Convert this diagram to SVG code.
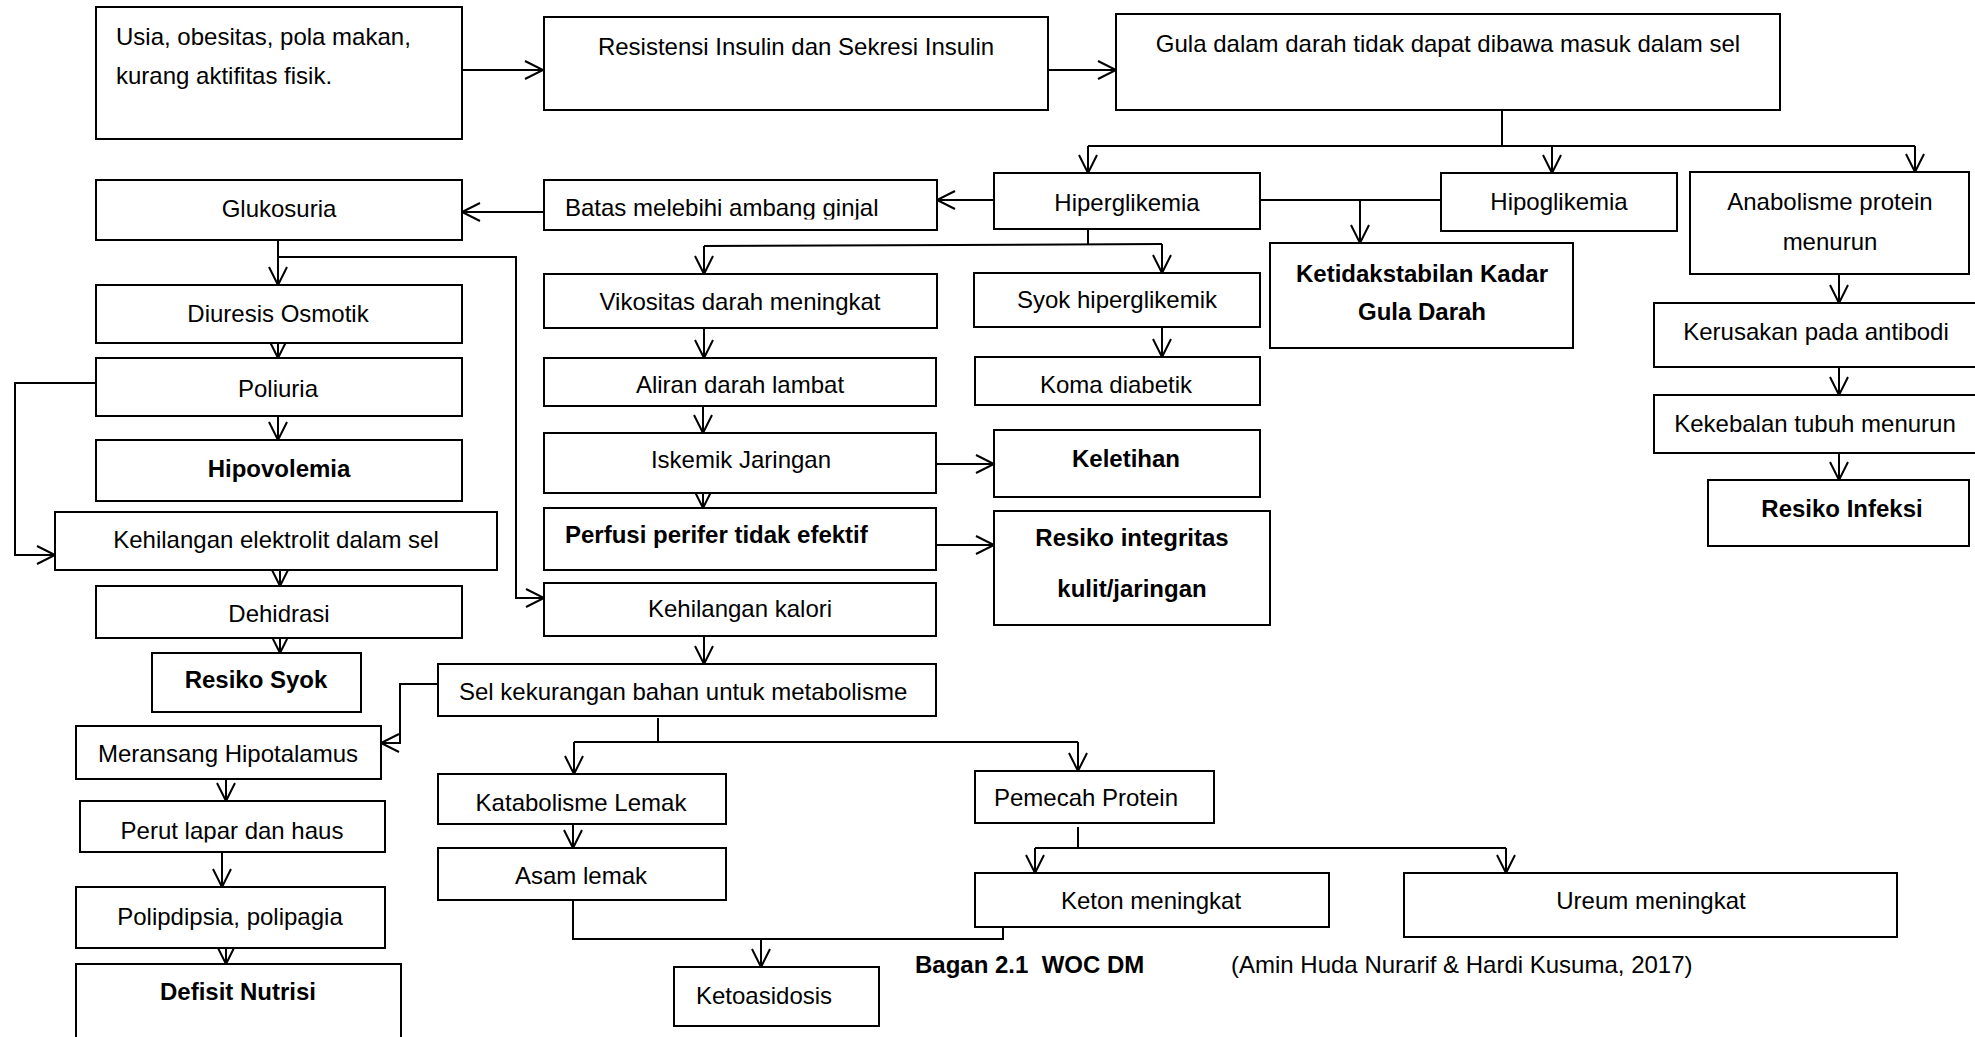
<svg xmlns="http://www.w3.org/2000/svg" width="1975" height="1037" viewBox="0 0 1975 1037">
<style>
.box{fill:#fff;stroke:#000;stroke-width:2}
.ln{fill:none;stroke:#000;stroke-width:2}
.ar{fill:none;stroke:#000;stroke-width:2;marker-end:url(#ah)}
text{font-family:"Liberation Sans",Arial,sans-serif;font-size:24px;fill:#000}
.c{text-anchor:middle}
.b{font-weight:bold}
</style>
<defs>
<marker id="ah" viewBox="-2 -2 22 22" markerWidth="22" markerHeight="22" refX="18" refY="9" orient="auto" markerUnits="userSpaceOnUse" style="overflow:visible">
<path d="M0,0 L18,9 L0,18" fill="none" stroke="#000" stroke-width="2"/>
</marker>
<clipPath id="clipBatas"><rect x="544" y="180" width="393" height="39.5"/></clipPath>
<clipPath id="clipPerut"><rect x="80" y="801" width="305" height="41.5"/></clipPath>
</defs>
<rect width="1975" height="1037" fill="#fff"/>

<g id="connectors">
<path class="ar" d="M462,70 H543"/>
<path class="ar" d="M1048,70 H1116"/>
<path class="ln" d="M1502,110 V146 M1088,146 H1915"/>
<path class="ar" d="M1088,146 V173"/>
<path class="ar" d="M1552,146 V173"/>
<path class="ar" d="M1915,146 V172"/>
<path class="ar" d="M994,200 H937"/>
<path class="ar" d="M544,212 H462"/>
<path class="ln" d="M1260,200 H1441"/>
<path class="ar" d="M1360,200 V243"/>
<path class="ln" d="M1088,229 V245 M704,246 L1162,244"/>
<path class="ar" d="M704,246 V274"/>
<path class="ar" d="M1162,244 V273"/>
<path class="ar" d="M704,328 V358"/>
<path class="ar" d="M703,406 V433"/>
<path class="ar" d="M703,493 V508"/>
<path class="ar" d="M936,464 H994"/>
<path class="ar" d="M936,545 H994"/>
<path class="ar" d="M1162,327 V357"/>
<path class="ar" d="M1839,274 V303"/>
<path class="ar" d="M1839,367 V395"/>
<path class="ar" d="M1839,453 V480"/>
<path class="ar" d="M278,240 V285"/>
<path class="ar" d="M278,257 H516 V598 H544"/>
<path class="ar" d="M278,343 V358"/>
<path class="ar" d="M278,416 V440"/>
<path class="ar" d="M96,383 H15 V555 H55"/>
<path class="ar" d="M280,570 V586"/>
<path class="ar" d="M280,638 V653"/>
<path class="ar" d="M704,636 V664"/>
<path class="ar" d="M438,684 H400 V743 H381"/>
<path class="ar" d="M226,779 V801"/>
<path class="ar" d="M222,852 V887"/>
<path class="ar" d="M226,948 V964"/>
<path class="ln" d="M658,718 V742 M574,742 H1078"/>
<path class="ar" d="M574,742 V774"/>
<path class="ar" d="M1078,742 V771"/>
<path class="ar" d="M573,824 V848"/>
<path class="ln" d="M1078,827 V848 M1035,848 H1506"/>
<path class="ar" d="M1035,848 V873"/>
<path class="ar" d="M1506,848 V873"/>
<path class="ln" d="M573,900 V939 H1003 V927"/>
<path class="ar" d="M761,939 V967"/>
</g>

<g id="n-usia"><rect class="box" x="96" y="7" width="366" height="132"/><text x="116" y="45">Usia, obesitas, pola makan,</text><text x="116" y="84">kurang aktifitas fisik.</text></g>
<g id="n-resistensi"><rect class="box" x="544" y="17" width="504" height="93"/><text class="c" x="796" y="55">Resistensi Insulin dan Sekresi Insulin</text></g>
<g id="n-gula"><rect class="box" x="1116" y="14" width="664" height="96"/><text class="c" x="1448" y="52">Gula dalam darah tidak dapat dibawa masuk dalam sel</text></g>
<g id="n-glukosuria"><rect class="box" x="96" y="180" width="366" height="60"/><text class="c" x="279" y="217">Glukosuria</text></g>
<g id="n-batas"><rect class="box" x="544" y="180" width="393" height="50"/><text x="565" y="216" clip-path="url(#clipBatas)">Batas melebihi ambang ginjal</text></g>
<g id="n-hiperglikemia"><rect class="box" x="994" y="173" width="266" height="56"/><text class="c" x="1127" y="211">Hiperglikemia</text></g>
<g id="n-hipoglikemia"><rect class="box" x="1441" y="173" width="236" height="58"/><text class="c" x="1559" y="210">Hipoglikemia</text></g>
<g id="n-anabolisme"><rect class="box" x="1690" y="172" width="279" height="102"/><text class="c" x="1830" y="210">Anabolisme protein</text><text class="c" x="1830" y="250">menurun</text></g>
<g id="n-ketidakstabilan"><rect class="box" x="1270" y="243" width="303" height="105"/><text class="c b" x="1422" y="282">Ketidakstabilan Kadar</text><text class="c b" x="1422" y="320">Gula Darah</text></g>
<g id="n-diuresis"><rect class="box" x="96" y="285" width="366" height="58"/><text class="c" x="278" y="322">Diuresis Osmotik</text></g>
<g id="n-vikositas"><rect class="box" x="544" y="274" width="393" height="54"/><text class="c" x="740" y="310">Vikositas darah meningkat</text></g>
<g id="n-syok-hiper"><rect class="box" x="974" y="273" width="286" height="54"/><text class="c" x="1117" y="308">Syok hiperglikemik</text></g>
<g id="n-kerusakan"><rect class="box" x="1654" y="303" width="330" height="64"/><text class="c" x="1816" y="340">Kerusakan pada antibodi</text></g>
<g id="n-poliuria"><rect class="box" x="96" y="358" width="366" height="58"/><text class="c" x="278" y="397">Poliuria</text></g>
<g id="n-aliran"><rect class="box" x="544" y="358" width="392" height="48"/><text class="c" x="740" y="393">Aliran darah lambat</text></g>
<g id="n-koma"><rect class="box" x="975" y="357" width="285" height="48"/><text class="c" x="1116" y="393">Koma diabetik</text></g>
<g id="n-kekebalan"><rect class="box" x="1654" y="395" width="330" height="58"/><text class="c" x="1815" y="432">Kekebalan tubuh menurun</text></g>
<g id="n-hipovolemia"><rect class="box" x="96" y="440" width="366" height="61"/><text class="c b" x="279" y="477">Hipovolemia</text></g>
<g id="n-iskemik"><rect class="box" x="544" y="433" width="392" height="60"/><text class="c" x="741" y="468">Iskemik Jaringan</text></g>
<g id="n-keletihan"><rect class="box" x="994" y="430" width="266" height="67"/><text class="c b" x="1126" y="467">Keletihan</text></g>
<g id="n-resiko-infeksi"><rect class="box" x="1708" y="480" width="261" height="66"/><text class="c b" x="1842" y="517">Resiko Infeksi</text></g>
<g id="n-elektrolit"><rect class="box" x="55" y="512" width="442" height="58"/><text class="c" x="276" y="548">Kehilangan elektrolit dalam sel</text></g>
<g id="n-perfusi"><rect class="box" x="544" y="508" width="392" height="62"/><text class="b" x="565" y="543">Perfusi perifer tidak efektif</text></g>
<g id="n-integritas"><rect class="box" x="994" y="511" width="276" height="114"/><text class="c b" x="1132" y="546">Resiko integritas</text><text class="c b" x="1132" y="597">kulit/jaringan</text></g>
<g id="n-dehidrasi"><rect class="box" x="96" y="586" width="366" height="52"/><text class="c" x="279" y="622">Dehidrasi</text></g>
<g id="n-kalori"><rect class="box" x="544" y="583" width="392" height="53"/><text class="c" x="740" y="617">Kehilangan kalori</text></g>
<g id="n-resiko-syok"><rect class="box" x="152" y="653" width="209" height="59"/><text class="c b" x="256" y="688">Resiko Syok</text></g>
<g id="n-sel"><rect class="box" x="438" y="664" width="498" height="52"/><text x="459" y="700">Sel kekurangan bahan untuk metabolisme</text></g>
<g id="n-meransang"><rect class="box" x="76" y="726" width="305" height="53"/><text class="c" x="228" y="762">Meransang Hipotalamus</text></g>
<g id="n-katabolisme"><rect class="box" x="438" y="774" width="288" height="50"/><text class="c" x="581" y="811">Katabolisme Lemak</text></g>
<g id="n-pemecah"><rect class="box" x="975" y="771" width="239" height="52"/><text class="c" x="1086" y="806">Pemecah Protein</text></g>
<g id="n-perut"><rect class="box" x="80" y="801" width="305" height="51"/><text class="c" x="232" y="839" clip-path="url(#clipPerut)">Perut lapar dan haus</text></g>
<g id="n-asam"><rect class="box" x="438" y="848" width="288" height="52"/><text class="c" x="581" y="884">Asam lemak</text></g>
<g id="n-keton"><rect class="box" x="975" y="873" width="354" height="54"/><text class="c" x="1151" y="909">Keton meningkat</text></g>
<g id="n-ureum"><rect class="box" x="1404" y="873" width="493" height="64"/><text class="c" x="1651" y="909">Ureum meningkat</text></g>
<g id="n-polipdipsia"><rect class="box" x="76" y="887" width="309" height="61"/><text class="c" x="230" y="925">Polipdipsia, polipagia</text></g>
<g id="n-defisit"><rect class="box" x="76" y="964" width="325" height="90"/><text class="c b" x="238" y="1000">Defisit Nutrisi</text></g>
<g id="n-ketoasidosis"><rect class="box" x="674" y="967" width="205" height="59"/><text x="696" y="1004">Ketoasidosis</text></g>
<g id="caption"><text class="b" x="915" y="973" xml:space="preserve">Bagan 2.1  WOC DM</text><text x="1231" y="973">(Amin Huda Nurarif &amp; Hardi Kusuma, 2017)</text></g>
</svg>
